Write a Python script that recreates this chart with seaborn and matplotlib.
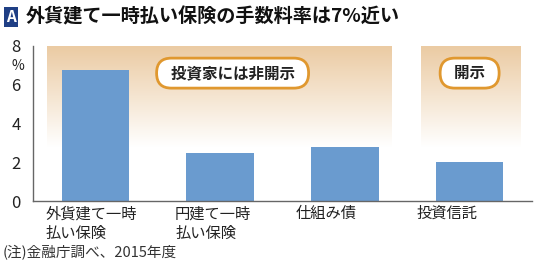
import numpy as np
import pandas as pd
import matplotlib
matplotlib.use("Agg")
import matplotlib.pyplot as plt
import matplotlib.transforms as mtransforms
import seaborn as sns

# ---- data ----
categories = ["外貨建て一時\n払い保険", "円建て一時\n払い保険", "仕組み債", "投資信託"]
fee_rates = [6.75, 2.5, 2.8, 2.0]
y_ticks = [0, 2, 4, 6, 8]
title_text = "外貨建て一時払い保険の手数料率は7%近い"
note_text = "(注)金融庁調べ、2015年度"
label_nondisclosed = "投資家には非開示"
label_disclosed = "開示"

sns.set_theme(style="white")
plt.rcParams['font.family'] = ['Noto Sans CJK JP', 'DejaVu Sans']

df = pd.DataFrame({"category": categories, "rate": fee_rates})

W, H = 550, 275
fig = plt.figure(figsize=(W / 100, H / 100), dpi=100)
ax = fig.add_axes([33 / W, 1 - 201 / H, (532 - 33) / W, (201 - 46) / H])

# background gradient panels
top_rgb = np.array([235, 203, 163]) / 255.0
n = 256
t = np.linspace(0, 1, n)[:, None]  # 0 at top, 1 at bottom
grad = top_rgb[None, :] * (1 - t) + np.ones(3)[None, :] * t
grad = np.repeat(grad[:, None, :], 2, axis=1)
for (x0, x1) in [(-0.385, 2.38), (2.61, 3.41)]:
    ax.imshow(grad, extent=[x0, x1, 2.8, 8.0], aspect='auto', zorder=0,
              interpolation='bilinear')

sns.barplot(data=df, x="category", y="rate", color="#6a9bcf", width=0.54,
            saturation=1, ax=ax, zorder=2, edgecolor="none")

ax.set_xlim(-0.5, 3.5)
ax.set_ylim(0, 8)
ax.set_yticks(y_ticks)
ax.set_yticklabels([str(v) for v in y_ticks], fontsize=12, color="#222222")
ax.set_xlabel("")
ax.set_ylabel("")
for s in ["top", "right"]:
    ax.spines[s].set_visible(False)
for s in ["left", "bottom"]:
    ax.spines[s].set_color("#666666")
    ax.spines[s].set_linewidth(1.0)
ax.tick_params(axis="y", direction="in", length=4, width=1, color="#666666", pad=9)
ax.tick_params(axis="x", length=0, pad=3)

offsets = [-4, -7, -19, -23]
for lab, off in zip(ax.get_xticklabels(), offsets):
    lab.set_fontsize(11)
    lab.set_color("#222222")
    lab.set_multialignment("left")
    lab.set_linespacing(1.2)
    lab.set_transform(lab.get_transform() +
                      mtransforms.ScaledTranslation(off / 100, 0, fig.dpi_scale_trans))

# percent sign under the 8 label
ax.text(-0.018, 0.915, "%", transform=ax.transAxes, ha="right", va="top",
        fontsize=10, color="#222222")

# pill labels
pill = dict(boxstyle="round,pad=0.45,rounding_size=0.95", fc="white",
            ec="#e0982f", lw=2)
ax.text(1.1, 6.6, "  " + label_nondisclosed + "  ", ha="center", va="center",
        fontsize=11.2, fontweight="bold", color="#222222", bbox=pill, zorder=3)
ax.text(3.0, 6.6, "  " + label_disclosed + "  ", ha="center", va="center",
        fontsize=11.2, fontweight="bold", color="#222222", bbox=pill, zorder=3)

# title
fig.text(11 / W, 1 - 17 / H, "A", ha="center", va="center", fontsize=11,
         fontweight="bold", color="white",
         bbox=dict(boxstyle="square,pad=0.12", fc="#1f3f85", ec="none"))
fig.text(26 / W, 1 - 17 / H, title_text, ha="left", va="center",
         fontsize=13.8, fontweight="bold", color="#111111")

# note
fig.text(3 / W, 1 - 253 / H, note_text, ha="left", va="center",
         fontsize=10.5, color="#333333")

fig.savefig("out.png", dpi=100)
